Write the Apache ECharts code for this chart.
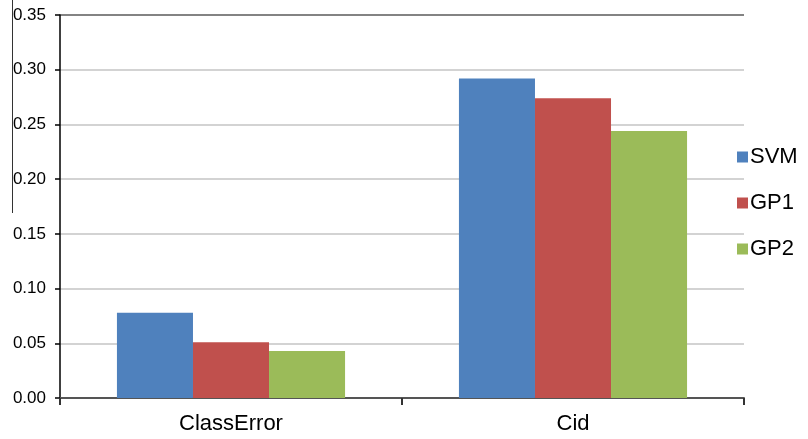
<!DOCTYPE html>
<html>
<head>
<meta charset="utf-8">
<script src="https://cdn.jsdelivr.net/npm/echarts@6/dist/echarts.min.js"></script>
<style>
  html, body { margin: 0; padding: 0; background: #fff; }
  #chart { width: 808px; height: 439px; }
</style>
</head>
<body>
<div id="chart"></div>
<script>
// Error measures per method
const categories = ['ClassError', 'Cid'];
const seriesNames = ['SVM', 'GP1', 'GP2'];
const svmValues = [0.078, 0.292];
const gp1Values = [0.051, 0.274];
const gp2Values = [0.043, 0.244];
const seriesColors = ['#4F81BD', '#C0504D', '#9BBB59'];

const yMin = 0;
const yMax = 0.35;
const yStep = 0.05;

const chart = echarts.init(document.getElementById('chart'), null, { renderer: 'canvas' });

const font = 'Arial, "Liberation Sans", sans-serif';
const values = [svmValues, gp1Values, gp2Values];

const series = seriesNames.map((name, i) => ({
  name: name,
  type: 'bar',
  data: values[i],
  barGap: '0%',
  barCategoryGap: '33.3%',
  itemStyle: { color: seriesColors[i] },
  emphasis: { disabled: true }
}));

// light split lines, darker line along the top
const splitColors = [];
for (let v = yMin; v <= yMax + 1e-9; v += yStep) splitColors.push('#c4c4c4');
splitColors[splitColors.length - 1] = '#5a5a5a';

chart.setOption({
  animation: false,
  backgroundColor: '#ffffff',
  textStyle: { fontFamily: font },
  grid: { left: 60, right: 64, top: 15, bottom: 41, containLabel: false },
  legend: {
    orient: 'vertical',
    left: 732,
    top: 141,
    itemWidth: 11,
    itemHeight: 11,
    itemGap: 24,
    icon: 'rect',
    data: seriesNames,
    textStyle: { fontSize: 22, color: '#000', fontFamily: font, padding: [0, 0, 0, -3] }
  },
  xAxis: {
    type: 'category',
    data: categories,
    axisLine: { lineStyle: { color: '#555555', width: 2 } },
    axisTick: { show: true, alignWithLabel: false, length: 7, lineStyle: { color: '#333333', width: 2 } },
    axisLabel: { fontSize: 22, color: '#000', margin: 15, fontFamily: font }
  },
  yAxis: {
    type: 'value',
    min: yMin,
    max: yMax,
    interval: yStep,
    axisLine: { show: true, lineStyle: { color: '#000000', width: 1.5 } },
    axisTick: { show: true, length: 5, lineStyle: { color: '#000000', width: 1.5 } },
    axisLabel: {
      fontSize: 17,
      color: '#000',
      margin: 14,
      fontFamily: font,
      formatter: v => v.toFixed(2)
    },
    splitLine: { show: true, lineStyle: { color: splitColors, width: 1.5 } }
  },
  graphic: [{
    type: 'line',
    shape: { x1: 12.5, y1: 0, x2: 12.5, y2: 213 },
    style: { stroke: '#333333', lineWidth: 1 },
    silent: true
  }],
  series: series
});
</script>
</body>
</html>
